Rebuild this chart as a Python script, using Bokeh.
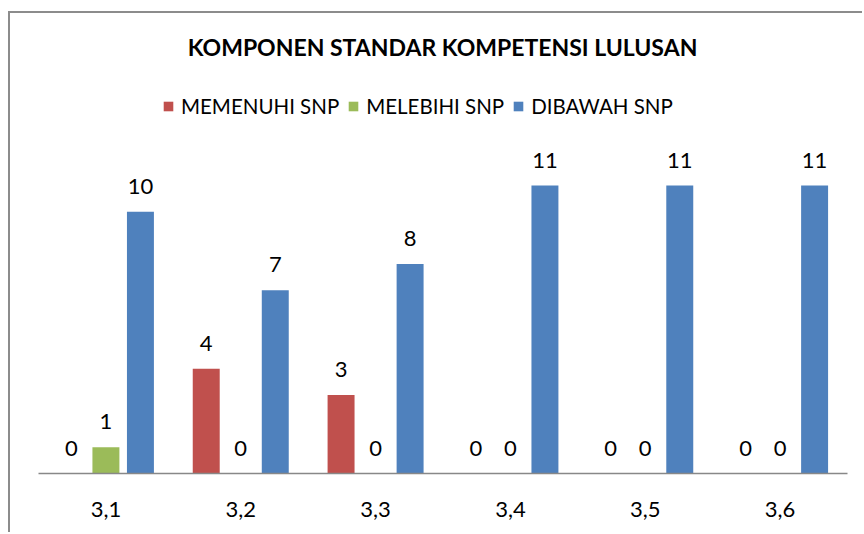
from bokeh.plotting import figure
from bokeh.models import FactorRange, Range1d, Legend, LegendItem, Label, ColumnDataSource
from bokeh.transform import dodge
from bokeh.core.properties import value
from bokeh.embed import file_html
from bokeh.resources import INLINE

categories = ["3,1", "3,2", "3,3", "3,4", "3,5", "3,6"]
series_names = ["MEMENUHI SNP", "MELEBIHI SNP", "DIBAWAH SNP"]
memenuhi = [0, 4, 3, 0, 0, 0]
melebihi = [1, 0, 0, 0, 0, 0]
dibawah = [10, 7, 8, 11, 11, 11]
title_text = "KOMPONEN STANDAR KOMPETENSI LULUSAN"

colors = ["#C0504D", "#9BBB59", "#4F81BD"]
FONT = "Lato"
FS = "22px"

src = ColumnDataSource(dict(
    cat=categories,
    s0=memenuhi, s1=melebihi, s2=dibawah,
    t0=[str(v) for v in memenuhi], t1=[str(v) for v in melebihi], t2=[str(v) for v in dibawah],
))

p = figure(x_range=FactorRange(factors=categories), y_range=Range1d(0, 17.57),
           width=854, height=521, output_backend="svg", toolbar_location=None,
           min_border_left=28, min_border_right=17, min_border_top=0, min_border_bottom=61,
           title=None)
p.styles = {"margin-left": "8px", "margin-top": "11px",
            "border-left": "2px solid #8c8c8c", "border-top": "2px solid #8c8c8c"}

offsets = [-0.256, 0.0, 0.256]
renderers = []
for i in range(3):
    r = p.vbar(x=dodge("cat", offsets[i], range=p.x_range), top="s%d" % i, width=0.2,
               source=src, fill_color=colors[i], line_color=None)
    renderers.append(r)
    p.text(x=dodge("cat", offsets[i], range=p.x_range), y="s%d" % i, text="t%d" % i,
           source=src, y_offset=-25.5, text_align="center", text_baseline="middle",
           text_font=value(FONT), text_font_size=FS, text_color="#000000")

p.xaxis.axis_line_color = "#888888"
p.xaxis.axis_line_width = 1.5
p.xaxis.major_tick_line_color = None
p.xaxis.minor_tick_line_color = None
p.xaxis.major_tick_out = 0
p.xaxis.major_tick_in = 0
p.xaxis.major_label_text_font = FONT
p.xaxis.major_label_text_font_size = FS
p.xaxis.major_label_text_color = "#000000"
p.xaxis.major_label_standoff = 28
p.yaxis.visible = False
p.xgrid.visible = False
p.ygrid.visible = False
p.outline_line_color = None

p.add_layout(Label(x=404, y=427, x_units="screen", y_units="screen", text=title_text,
                   text_align="center", text_baseline="middle", text_font=FONT,
                   text_font_size="23px", text_font_style="bold", text_color="#000000"))

legend = Legend(items=[LegendItem(label=series_names[i], renderers=[renderers[i]]) for i in range(3)],
                location=(124, 355), orientation="horizontal", glyph_width=12, glyph_height=12,
                label_standoff=7, spacing=8, padding=0, margin=0, border_line_color=None,
                background_fill_alpha=0, label_text_font=FONT, label_text_font_size="20.5px",
                label_text_color="#000000")
p.add_layout(legend)

open("out.html", "w").write(file_html(p, INLINE))
